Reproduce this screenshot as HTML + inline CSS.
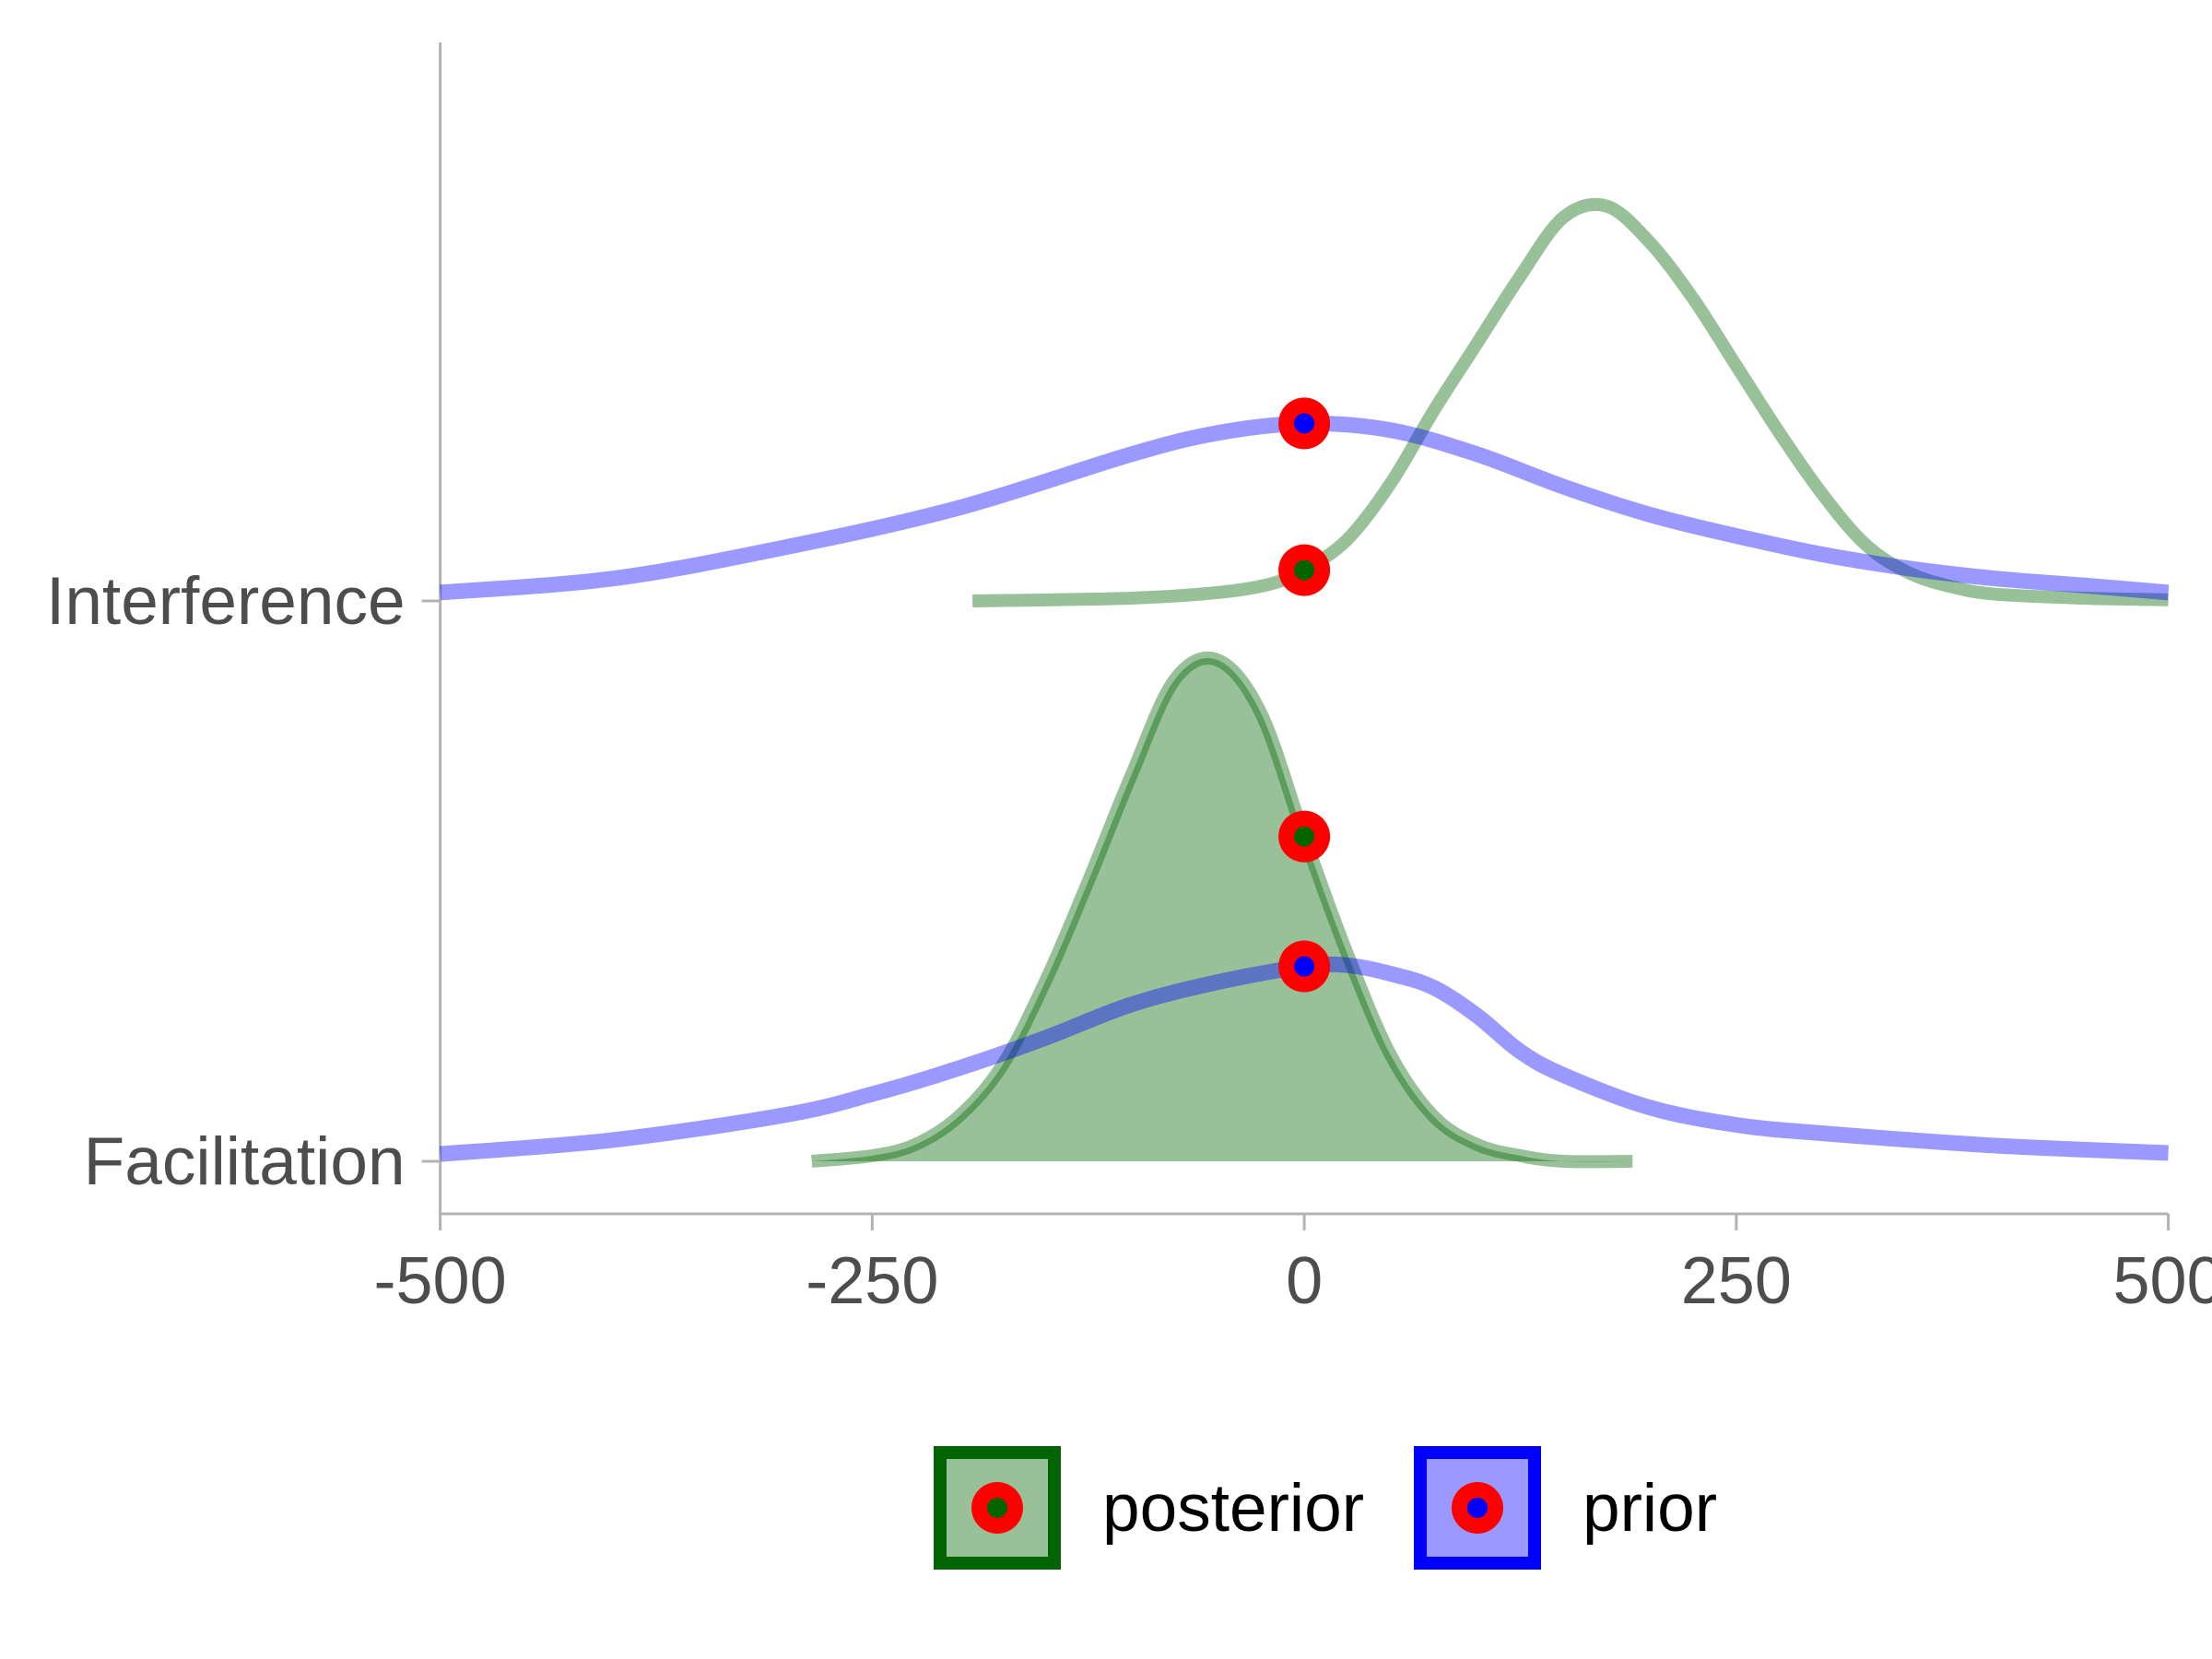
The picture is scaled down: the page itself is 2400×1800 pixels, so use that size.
<!DOCTYPE html>
<html><head><meta charset="utf-8"><style>
html,body{margin:0;padding:0;background:#fff}
svg{display:block}
text{font-family:"Liberation Sans",sans-serif}
</style></head><body>
<svg id="chart" width="2400" height="1800" viewBox="0 0 2400 1800" xmlns="http://www.w3.org/2000/svg">
<g id="plot"></g>
<g id="legend">
  <g>
    <rect x="1020" y="1576" width="124" height="120" fill="rgba(0,100,0,0.4)" stroke="#006400" stroke-width="14"/>
    <circle cx="1082" cy="1636" r="28" fill="#ff0000"/>
    <circle cx="1082" cy="1636" r="11" fill="#006400"/>
    <text x="1196" y="1661" font-size="73" fill="#000">posterior</text>
  </g>
  <g>
    <rect x="1541" y="1576" width="124" height="120" fill="rgba(0,0,255,0.4)" stroke="#0000ff" stroke-width="14"/>
    <circle cx="1603" cy="1636" r="28" fill="#ff0000"/>
    <circle cx="1603" cy="1636" r="11" fill="#0000ff"/>
    <text x="1717" y="1661" font-size="73" fill="#000">prior</text>
  </g>
</g>
</svg>
<script>
const categories = ["Facilitation", "Interference"];
const xTicks = [-500, -250, 0, 250, 500];
const xTickLabels = ["-500", "-250", "0", "250", "500"];
const postFacX = [-285,-250,-225,-200,-175,-150,-125,-100,-75,-50,-25,0,25,50,75,100,125,150,190];
const postFacH = [0.0,0.01,0.03,0.08,0.17,0.32,0.50,0.69,0.86,0.895,0.80,0.58,0.37,0.19,0.08,0.03,0.01,0.0,0.0];
const postIntX = [-192,-100,-50,-20,0,25,50,75,100,125,150,175,200,225,250,275,300,325,350,375,400,450,500];
const postIntH = [0.0,0.005,0.015,0.03,0.055,0.11,0.21,0.34,0.46,0.58,0.685,0.705,0.64,0.54,0.42,0.30,0.19,0.10,0.05,0.025,0.012,0.005,0.002];
const priorIntX = [-500,-400,-300,-200,-100,-50,0,50,100,150,200,250,300,350,400,450,500];
const priorIntH = [0.015,0.04,0.096,0.166,0.262,0.30,0.317,0.305,0.262,0.204,0.154,0.116,0.083,0.058,0.04,0.028,0.015];
const priorFacX = [-500,-400,-300,-250,-200,-150,-100,-50,0,25,50,75,100,125,150,200,250,300,400,500];
const priorFacH = [0.013,0.038,0.083,0.12,0.166,0.22,0.28,0.32,0.348,0.35,0.335,0.31,0.26,0.196,0.154,0.096,0.065,0.05,0.028,0.015];
const pointX = [0, 0, 0, 0];
const pointH = [0.58, 0.348, 0.055, 0.317];
const pointCat = [0, 0, 1, 1];
const pointType = ["posterior", "prior", "posterior", "prior"];

const NS = "http://www.w3.org/2000/svg";
const plot = document.getElementById("plot");
const x0 = 477.6, x1 = 2352.6;
const xs = v => x0 + (v + 500) / 1000 * (x1 - x0);
const baseY = [1260, 652];
const unit = 607.6;
const ys = (cat, h) => baseY[cat] - h * unit;

function mk(tag, attrs) {
  const el = document.createElementNS(NS, tag);
  for (const k in attrs) el.setAttribute(k, attrs[k]);
  plot.appendChild(el);
  return el;
}
function pathD(cat, X, H) {
  const P = X.map((v, i) => [xs(v), ys(cat, H[i])]);
  let d = "M" + P[0][0].toFixed(1) + "," + P[0][1].toFixed(1);
  for (let i = 0; i < P.length - 1; i++) {
    const p0 = P[Math.max(0, i - 1)], p1 = P[i], p2 = P[i + 1], p3 = P[Math.min(P.length - 1, i + 2)];
    const c1x = p1[0] + (p2[0] - p0[0]) / 6, c1y = p1[1] + (p2[1] - p0[1]) / 6;
    const c2x = p2[0] - (p3[0] - p1[0]) / 6, c2y = p2[1] - (p3[1] - p1[1]) / 6;
    d += " C" + c1x.toFixed(1) + "," + c1y.toFixed(1) + " " + c2x.toFixed(1) + "," + c2y.toFixed(1) + " " + p2[0].toFixed(1) + "," + p2[1].toFixed(1);
  }
  return d;
}

let el = mk("line", {x1: x0, y1: 46, x2: x0, y2: 1317, stroke: "#b3b3b3", "stroke-width": 3});


el = mk("line", {x1: x0 - 1.5, y1: 1317, x2: x1, y2: 1317, stroke: "#b3b3b3", "stroke-width": 3});


xTicks.forEach((t, i) => {
  const tk = mk("line", {x1: xs(t), y1: 1317, x2: xs(t), y2: 1335, stroke: "#b3b3b3", "stroke-width": 3});
  
  
  const tl = mk("text", {x: xs(t), y: 1414, "font-size": 72, fill: "#4d4d4d", "text-anchor": "middle"});
  tl.textContent = xTickLabels[i];
  
  
});
categories.forEach((c, i) => {
  const tk = mk("line", {x1: x0 - 20, y1: baseY[i], x2: x0, y2: baseY[i], stroke: "#b3b3b3", "stroke-width": 3});
  
  
  const tl = mk("text", {x: x0 - 38, y: baseY[i] + 25, "font-size": 73, fill: "#4d4d4d", "text-anchor": "end"});
  tl.textContent = c;
  
  
});

const fd = pathD(0, postFacX, postFacH) + " L" + xs(postFacX[postFacX.length-1]) + "," + baseY[0] + " L" + xs(postFacX[0]) + "," + baseY[0] + " Z";
el = mk("path", {d: fd, fill: "rgba(0,100,0,0.4)", stroke: "none"});



const lineOpts = [
  [1, postIntX, postIntH, "rgba(0,100,0,0.4)", 14, "posterior-interference-line"],
  [1, priorIntX, priorIntH, "rgba(0,0,255,0.4)", 17, "prior-interference-line"],
  [0, postFacX, postFacH, "rgba(0,100,0,0.4)", 14, "posterior-facilitation-line"],
  [0, priorFacX, priorFacH, "rgba(0,0,255,0.4)", 17, "prior-facilitation-line"]
];
lineOpts.forEach(o => {
  const p = mk("path", {d: pathD(o[0], o[1], o[2]), fill: "none", stroke: o[3], "stroke-width": o[4], "stroke-linejoin": "round"});
  
  
});

pointX.forEach((v, i) => {
  const cx = xs(v), cy = ys(pointCat[i], pointH[i]);
  const a = mk("circle", {cx: cx, cy: cy, r: 28, fill: "#ff0000"});
  
  
  const b = mk("circle", {cx: cx, cy: cy, r: 11, fill: pointType[i] === "prior" ? "#0000ff" : "#006400"});
  
  
});
</script>
</body></html>
